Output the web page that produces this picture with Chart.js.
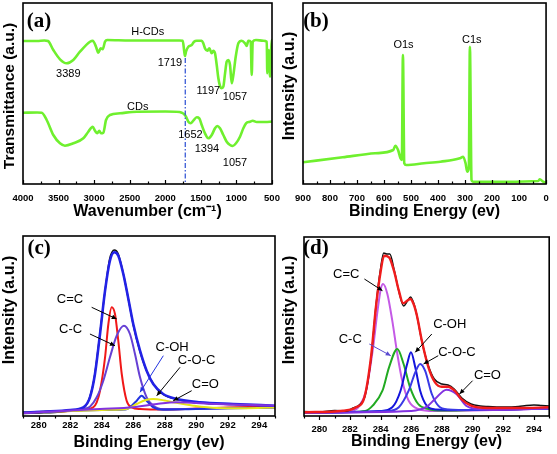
<!DOCTYPE html>
<html><head><meta charset="utf-8">
<script src="https://cdn.jsdelivr.net/npm/chart.js@4.4.1/dist/chart.umd.min.js"></script>
<style>
html,body{margin:0;padding:0;background:#fff;}
#wrap{position:relative;width:557px;height:454px;overflow:hidden;}
canvas{position:absolute;left:0;top:0;}
</style></head><body>
<div id="wrap">
<canvas id="ca" width="557" height="454"></canvas>
<canvas id="cb" width="557" height="454"></canvas>
<canvas id="cc" width="557" height="454"></canvas>
<canvas id="cd" width="557" height="454"></canvas>
</div>
<script>
// ---------- (a) FTIR ----------
const ftirH_wn = [4000,3800,3700,3649,3574,3480,3386,3293,3199,3058,3020,2974,2942,2908,2880,2847,2815,2500,2000,1800,1755,1733,1723,1709,1676,1629,1596,1558,1488,1466,1442,1409,1381,1347,1325,1301,1277,1254,1231,1207,1184,1160,1137,1114,1090,1066,1043,1010,973,926,879,855,833,799,785,771,725,622,574,566,546,528,514,504,500];
const ftirH_T = [143,143,143.5,143,134,124.7,120.7,124,132.3,142.3,143.3,137.3,131.3,135.7,134.7,142.3,144,143.5,143.5,143.5,143.3,132.3,128,132.3,137.3,139,142.3,143.3,143.3,140.7,135.7,133.3,135.7,130.7,133.3,130.7,119,105.7,98,95.7,97.3,110.7,122.3,124,119,100.7,109,127.3,140.7,143.3,140.7,138,143.3,142.3,109,142.3,144,143.3,142.3,110.7,134,107.3,130.7,144,139];
const ftirC_wn = [4000,3800,3737,3667,3574,3480,3410,3293,3152,3082,3020,2988,2956,2928,2904,2871,2833,2777,2636,2402,2000,1800,1769,1737,1709,1676,1643,1606,1558,1522,1488,1442,1395,1347,1301,1269,1231,1184,1137,1090,1052,1006,950,903,865,809,771,715,622,528,500];
const ftirC_T = [71.3,71.5,71.3,64,49,40.7,38.3,40.7,45.7,52.3,57.3,53.3,50.7,53.3,50.7,51.3,64,69,70.7,72.3,72.5,72,71.3,70,67.3,62.3,60.7,63.3,66.7,65.7,59,50.7,45.7,49,55.7,58,55.7,49,42.3,39,38,40.7,47.3,55.7,60.7,62.3,63.3,62,62,62.3,62.7];
const markWn = [1719,1719];
const markT = [126,0];
const ftirTicks = {min:500, max:4000, step:250, labelEvery:500};

// ---------- (b) XPS survey ----------
const survBE = [900,753,633,566,558,548,539,534,530,525,518,452,391,319,307,298,292,286,282,276,271,151,29,23,11,0];
const survI  = [21.7,26.7,30.7,34,38.3,34,25.7,24,129,20.7,19,20.7,22.3,25.7,27.3,20.7,12.3,15.7,137.3,4,2.3,2.3,3,4.7,2.3,1.3];

// ---------- (c) C1s, H-CDs ----------
const cEnvE = [279,280.5,282,282.83,283.25,283.57,283.89,284.21,284.52,284.8,285.05,285.37,285.69,286.0,286.43,286.85,287.27,287.9,288.76,290.24,292.35,295];
const cEnvI = [3.5,4.5,6,8.7,18.7,42,82,125.3,155.3,163.7,160.3,142,117,92,65.3,45.3,32,22,17,13.7,12,10.3];
const cRawE = [279,280,281,282,282.7,283.1,283.5,283.85,284.2,284.5,284.8,285.05,285.4,285.7,286,286.4,286.85,287.3,287.9,288.8,290.2,292.4,295];
const cRawI = [2.5,3,3.5,5,7,13,36,78,124,157,166,162,140,116,91,66,45,31.5,21.5,16.5,13,11.5,10];
const cCCdE = [279,282,283,283.46,283.68,283.89,284.21,284.42,284.63,284.84,285.05,285.27,285.58,285.9,286.43,288,290,292,295];
const cCCdI = [3.5,5,6.5,8.7,13.7,25.3,58.7,92,108.7,102,75.3,42,15.3,8.7,7,6.5,7.5,8.5,9.5];
const cCCsE = [279,282,282.8,283.25,283.68,284.1,284.52,284.95,285.41,285.79,286.11,286.43,286.85,287.27,287.9,289,292,295];
const cCCsI = [3.5,5.5,7,9.3,18.7,35.3,58.7,80.3,90.3,82,62,38.7,18.7,10.3,7,7,8,8.5];
const cCOHE = [279,284,285.5,285.9,286.22,286.53,286.85,287.27,287.9,290,295];
const cCOHI = [3.5,6,6.5,10.3,15.3,20.3,15.3,8.7,6.3,7,8.5];
const cCOCE = [279,284,285.2,285.58,286.22,286.8,287.27,288,288.54,289.81,291.3,293,295];
const cCOCI = [3.5,6,6.5,7,12,16,17,15.5,13.7,10.3,8,7.8,8.5];
const cCOE  = [279,282,283.89,286,287.5,288.76,290,291.3,293,295];
const cCOI  = [2.7,5.5,7,8.7,12,13.7,13,12,11.3,10.3];

// ---------- (d) C1s, CDs ----------
const dEnvE = [279,281.55,282.4,282.94,283.37,283.69,284.01,284.23,284.55,284.87,285.19,285.47,285.73,285.94,286.15,286.37,286.69,287.12,287.55,287.98,288.4,288.83,289.26,289.9,290.97,293,295];
const dEnvI = [3.7,5.3,8.7,18.7,58.7,108.7,145.3,160.3,158.7,145.3,125.3,112.7,115.3,117,112,100.3,75.3,48.7,33.7,29.3,29.3,25.3,17,10.3,8,8,8.7];
const dRawE = [279,280,281,281.8,282.2,282.6,283,283.4,283.7,284.0,284.2,284.4,284.6,284.9,285.2,285.5,285.75,285.95,286.2,286.4,286.7,287.1,287.5,288,288.4,288.8,289.3,289.9,290.5,291,292,293,293.5,294,294.5,295];
const dRawI = [4.5,4,5.5,5,8,11,21,61,111,148,163,162,162,145,124,110,115,119,111,98,74,51,37,32,31,27,18,12,10,9.5,9,9.5,10.5,11,10.5,10];
const dCCdE = [279,281,282.2,282.62,283.05,283.48,283.8,284.01,284.16,284.44,284.76,285.09,285.41,285.83,286.47,287.5,290,295];
const dCCdI = [3.3,4,5.5,10.3,25.3,65.3,105.3,127,132,122,95.3,62,35.3,15.3,7,5,5.5,7.5];
const dCCsE = [279,282,283,283.48,284.12,284.55,285.09,285.5,285.92,286.45,287.12,288,290,295];
const dCCsI = [3.3,4,5,10.3,25.3,48.7,67,52,28.7,12,7,5.5,6,7.5];
const dCOHE = [279,284,284.76,285.3,285.73,285.98,286.26,286.58,287.01,287.6,290,295];
const dCOHI = [3.3,5,8.7,25.3,52,63.7,48.7,25.3,10.3,6.5,6,7.5];
const dCOCE = [279,284.5,285.19,285.83,286.26,286.58,286.9,287.34,287.76,288.4,290,295];
const dCOCI = [3.3,5,8.7,25.3,43.7,52,45.3,22,10.3,6.5,6,7.5];
const dCOE  = [279,286,287.01,287.55,288.3,288.94,289.58,290.33,291.5,295];
const dCOI  = [3.3,5,9.3,17,26.3,22,10.3,7,6,7.5];

const xpsTicks = {min:279, max:295, step:1, labelEvery:2};
const surveyTicks = {min:0, max:900, step:50, labelEvery:100};

// ---------- helpers ----------
const SANS = 'Liberation Sans, Arial, sans-serif';
function pts(xs, ys){ return xs.map((v,i)=>({x:v, y:ys[i]})); }
function line(label, xs, ys, color, width, extra){
  return Object.assign({label, data:pts(xs,ys), borderColor:color, backgroundColor:color,
    borderWidth:width, pointRadius:0, fill:false, cubicInterpolationMode:'monotone'}, extra||{});
}

const decor = {
  id:'decor',
  afterDatasetsDraw(chart, args, o){
    const {ctx, chartArea:a, scales} = chart;
    const xs = scales.x, ys = scales.y;
    const X = v => xs.getPixelForValue(v), Y = v => ys.getPixelForValue(v);
    ctx.save();
    ctx.strokeStyle = '#000'; ctx.lineWidth = 1.6;
    ctx.strokeRect(a.left, a.top, a.right-a.left, a.bottom-a.top);
    ctx.lineWidth = 1.2;
    xs.ticks.forEach(t=>{
      const px = Math.round(X(t.value))+0.5;
      const len = t.label !== '' ? o.majorLen : o.minorLen;
      ctx.beginPath(); ctx.moveTo(px, a.bottom); ctx.lineTo(px, a.bottom + o.tickDir*len); ctx.stroke();
    });
    (o.arrows||[]).forEach(ar=>{
      const x1=X(ar[0]), y1=Y(ar[1]), x2=X(ar[2]), y2=Y(ar[3]);
      ctx.strokeStyle = ar[4]||'#000'; ctx.fillStyle = ar[4]||'#000'; ctx.lineWidth = 1;
      ctx.beginPath(); ctx.moveTo(x1,y1); ctx.lineTo(x2,y2); ctx.stroke();
      const ang = Math.atan2(y2-y1, x2-x1), L=5, W=2.3;
      ctx.beginPath(); ctx.moveTo(x2,y2);
      ctx.lineTo(x2 - L*Math.cos(ang) + W*Math.sin(ang), y2 - L*Math.sin(ang) - W*Math.cos(ang));
      ctx.lineTo(x2 - L*Math.cos(ang) - W*Math.sin(ang), y2 - L*Math.sin(ang) + W*Math.cos(ang));
      ctx.closePath(); ctx.fill();
    });
    ctx.fillStyle = '#000'; ctx.textAlign='center'; ctx.textBaseline='middle';
    ctx.font = o.noteFont;
    (o.texts||[]).forEach(t=>{ ctx.fillText(t[0], X(t[1]), Y(t[2])); });
    ctx.font = 'bold 21px Liberation Serif, Times New Roman, serif';
    ctx.fillText(o.letter[0], X(o.letter[1]), Y(o.letter[2]));
    ctx.font = 'bold ' + o.yTitle[3] + 'px ' + SANS;
    ctx.translate(o.yTitle[1], o.yTitle[2]); ctx.rotate(-Math.PI/2);
    ctx.fillText(o.yTitle[0], 0, 0);
    ctx.restore();
  }
};

function makeChart(id, c){
  return new Chart(document.getElementById(id), {
    type:'line',
    data:{datasets:c.datasets},
    options:{
      responsive:false, animation:false, events:[],
      layout:{padding:c.padding},
      plugins:{legend:{display:false}, tooltip:{enabled:false}, decor:c.decor},
      scales:{
        x:{type:'linear', min:c.ticks.min, max:c.ticks.max, reverse:!!c.reverse,
          ticks:{stepSize:c.ticks.step, autoSkip:false, maxRotation:0, minRotation:0, padding:c.tickPad, color:'#000',
            font:{family:SANS, weight:'bold', size:9.5},
            callback:(v)=> (Math.abs(v % c.ticks.labelEvery) < 1e-6 ? String(v) : '')},
          grid:{display:false, drawTicks:false}, border:{display:false},
          title:{display:true, text:c.xTitle, color:'#000', padding:0, font:{family:SANS, weight:'bold', size:16}},
          afterFit:(s)=>{ s.height = c.xH; }},
        y:{display:false, min:0, max:c.ymax}
      }
    },
    plugins:[decor]
  });
}

const GREEN = '#6ff02e';

makeChart('ca', {
  reverse:true, ticks:ftirTicks, ymax:181, xH:37.6, tickPad:8.3,
  padding:{left:23, top:3, right:285, bottom:454-184-37.6},
  xTitle:'Wavenumber (cm\u207B\u00B9)',
  datasets:[
    line('mark', markWn, markT, '#3a5ad6', 1.3, {borderDash:[5,2,1.5,2], cubicInterpolationMode:'default', tension:0}),
    line('H-CDs', ftirH_wn, ftirH_T, GREEN, 2.6),
    line('CDs', ftirC_wn, ftirC_T, GREEN, 2.6)
  ],
  decor:{majorLen:4, minorLen:2.5, tickDir:-1, noteFont:'11px '+SANS,
    letter:['(a)',3775,162.3], yTitle:['Transmittance (a.u.)',10,96,15.5],
    texts:[['H-CDs',2247,152.3],['3389',3363,110],['1719',1934,120.7],['1197',1395,93.5],['1057',1020,87],
           ['CDs',2388,76.7],['1652',1646,49],['1394',1414,35.3],['1057',1020,20.7]]}
});

makeChart('cb', {
  reverse:true, ticks:surveyTicks, ymax:181, xH:37.6, tickPad:8.3,
  padding:{left:303, top:3, right:5, bottom:454-184-37.6},
  xTitle:'Binding Energy (ev)',
  datasets:[ line('survey', survBE, survI, GREEN, 2.6) ],
  decor:{majorLen:4, minorLen:2.5, tickDir:-1, noteFont:'11px '+SANS,
    letter:['(b)',852,162.3], yTitle:['Intensity (a.u.)',290,86,16],
    texts:[['O1s',528,139],['C1s',275,144]]}
});

makeChart('cc', {
  reverse:false, ticks:xpsTicks, ymax:180, xH:36.6, tickPad:4,
  padding:{left:23, top:236, right:282, bottom:454-416-36.6},
  xTitle:'Binding Energy (ev)',
  datasets:[
    line('C=O', cCOE, cCOI, '#8232e0', 2),
    line('envelope', cEnvE, cEnvI, '#2222e6', 2.6),
    line('C-O-C', cCOCE, cCOCI, '#e6e619', 2),
    line('C-OH', cCOHE, cCOHI, '#2233e0', 2),
    line('C-C', cCCsE, cCCsI, '#6640d4', 2),
    line('C=C', cCCdE, cCCdI, '#f01818', 2),
    line('raw', cRawE, cRawI, '#111', 1.5)
  ],
  decor:{majorLen:4, minorLen:2.5, tickDir:1, noteFont:'13px '+SANS,
    letter:['(c)',280.02,167], yTitle:['Intensity (a.u.)',10,310,16],
    texts:[['C=C',281.98,117],['C-C',282.02,87],['C-OH',288.47,68.7],['C-O-C',290.02,56],['C=O',290.58,32]],
    arrows:[[283.36,108.7,284.95,97],[283.25,82,284.84,70.3],[287.91,60.3,286.43,23.7,'#2233e0'],[288.97,48.7,287.49,20.3],[289.71,25.3,288.54,15.3]]}
});

makeChart('cd', {
  reverse:false, ticks:xpsTicks, ymax:179, xH:35.6, tickPad:7.8,
  padding:{left:304, top:237, right:4, bottom:454-416-35.6},
  xTitle:'Binding Energy (ev)',
  datasets:[
    line('envelope', dEnvE, dEnvI, '#f01c1c', 2.4),
    line('raw', dRawE, dRawI, '#111', 1.5),
    line('C=O', dCOE, dCOI, '#8232e0', 2),
    line('C-O-C', dCOCE, dCOCI, '#3a3ae6', 2),
    line('C-OH', dCOHE, dCOHI, '#1414dc', 2),
    line('C-C', dCCsE, dCCsI, '#22aa22', 2),
    line('C=C', dCCdE, dCCdI, '#c45ae6', 2)
  ],
  decor:{majorLen:4, minorLen:2.5, tickDir:1, noteFont:'13px '+SANS,
    letter:['(d)',279.77,167], yTitle:['Intensity (a.u.)',290,310,16],
    texts:[['C=C',281.76,142],['C-C',282.02,77],['C-OH',288.51,92],['C-O-C',288.98,63.7],['C=O',290.97,40.3]],
    arrows:[[282.94,137,284.12,125.3],[283.26,72,284.66,60.3,'#5a4ad0'],[287.34,82,286.26,63.7],[287.76,60.3,286.8,52],[290.0,35.3,289.15,22]]}
});
</script>
</body></html>
